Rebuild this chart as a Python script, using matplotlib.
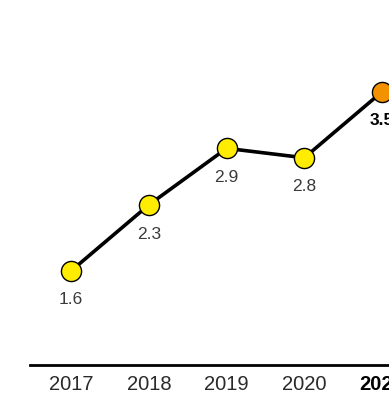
import matplotlib.pyplot as plt

years = [2017, 2018, 2019, 2020, 2021]
values = [1.6, 2.3, 2.9, 2.8, 3.5]
labels = ['1.6', '2.3', '2.9', '2.8', '3.5']

plt.rcParams['font.family'] = ['Liberation Sans', 'DejaVu Sans']

fig = plt.figure(figsize=(3.89, 3.98), dpi=100)
ax = fig.add_axes([30 / 389, 33 / 398, 1 - 30 / 389, 365 / 398])

# linha principal
ax.plot(years, values, color='black', lw=2.6, zorder=2)
cores = ['#FFEC00'] * 4 + ['#F39200']
for x, y, c in zip(years, values, cores):
    ax.plot(x, y, 'o', ms=14.5, mfc=c, mec='black', mew=1, zorder=3)

# rotulos dos valores
for i, (x, y) in enumerate(zip(years, values)):
    ultimo = i == len(years) - 1
    ax.annotate(labels[i], (x, y), xytext=(0, -21), textcoords='offset points',
                ha='center', va='center', fontsize=12.5,
                color='black' if ultimo else '#3a3a3a',
                fontweight='bold' if ultimo else 'normal')

ax.set_xlim(2016.47, 2021.09)
ax.set_ylim(0.6, 0.6 + 365 / 94.2)
ax.set_xticks(years)
ax.set_xticklabels([str(a) for a in years], fontsize=14.5, color='#2a2a2a')
ax.get_xticklabels()[-1].set_fontweight('bold')
ax.get_xticklabels()[-1].set_color('black')
ax.tick_params(axis='x', length=0, pad=7)
ax.set_yticks([])
for s in ['top', 'right', 'left']:
    ax.spines[s].set_visible(False)
ax.spines['bottom'].set_linewidth(2)

fig.savefig('out.png', dpi=100)
